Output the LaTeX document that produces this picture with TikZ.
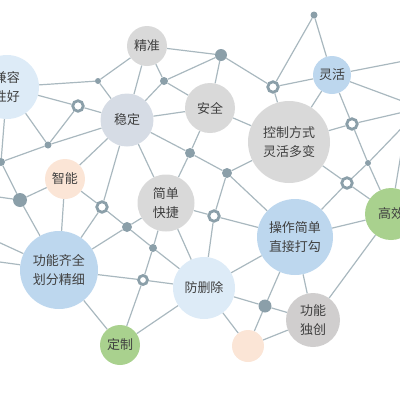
\documentclass[tikz,border=0pt]{standalone}
\usepackage{fontspec}
\setmainfont{Noto Sans CJK SC}
\pgfdeclarelayer{bg}
\pgfsetlayers{bg,main}
\definecolor{edgec}{HTML}{A9B8BF}
\definecolor{dotc}{HTML}{8B9FA9}
\definecolor{txt}{HTML}{404040}
\definecolor{grayn}{HTML}{D9D9D9}
\definecolor{grayb}{HTML}{D0CECE}
\definecolor{slate}{HTML}{D6DCE5}
\definecolor{blue1}{HTML}{BDD7EE}
\definecolor{blue2}{HTML}{DDEBF7}
\definecolor{peach}{HTML}{FBE5D6}
\definecolor{green1}{HTML}{A9D18E}
\tikzset{
  edge/.style={draw=edgec, line width=1.2pt},
  big/.style={circle, inner sep=0pt, align=center, text=txt, font=\fontsize{13}{19}\selectfont},
  dotn/.style={circle, fill=dotc, inner sep=0pt},
  ringn/.style={circle, draw=dotc, line width=2.8pt, fill=white, inner sep=0pt, minimum size=10.5pt},
}
\begin{document}
\begin{tikzpicture}[x=1pt,y=-1pt]
\useasboundingbox (0,0) rectangle (400,400);
\clip (0,0) rectangle (400,400);
% big nodes
\node[big, fill=blue2, minimum size=64pt] (jr) at (7,87) {兼容\\性好};
\node[big, fill=grayn, minimum size=40pt] (jz) at (147,46) {精准};
\node[big, fill=slate, minimum size=53pt] (wd) at (127,120) {稳定};
\node[big, fill=grayn, minimum size=50pt] (aq) at (210,108) {安全};
\node[big, fill=grayn, minimum size=82pt] (kz) at (289,142) {控制方式\\灵活多变};
\node[big, fill=blue1, minimum size=38pt] (lh) at (332,75) {灵活};
\node[big, fill=peach, minimum size=40pt] (zn) at (65,179) {智能};
\node[big, fill=grayn, minimum size=57pt] (jd) at (166,203) {简单\\快捷};
\node[big, fill=blue1, minimum size=78pt] (gn) at (59,270) {功能齐全\\划分精细};
\node[big, fill=blue2, minimum size=62pt] (fs) at (204,288) {防删除};
\node[big, fill=blue1, minimum size=76pt] (cz) at (295,237) {操作简单\\直接打勾};
\node[big, fill=green1, minimum size=52pt] (gx) at (391,214) {高效};
\node[big, fill=green1, minimum size=40pt] (dz) at (120,345) {定制};
\node[big, fill=grayb, minimum size=54pt] (dc) at (313,320) {功能\\独创};
\node[big, fill=peach, minimum size=32pt] (pc) at (248,346) {};
% dots
\node[dotn, minimum size=6pt] (d1) at (98,81) {};
\node[dotn, minimum size=8pt] (d2) at (164,81) {};
\node[dotn, minimum size=7pt] (d3) at (48,145) {};
\node[dotn, minimum size=8pt] (d4) at (1,162) {};
\node[dotn, minimum size=14pt] (d5) at (20,200) {};
\node[dotn, minimum size=12pt] (d6) at (221,55) {};
\node[dotn, minimum size=7pt] (d7) at (314,15) {};
\node[dotn, minimum size=10pt] (d8) at (190,153) {};
\node[dotn, minimum size=10pt] (d9) at (227,173) {};
\node[dotn, minimum size=6pt] (d10) at (368,163) {};
\node[dotn, minimum size=10pt] (d11) at (127,227) {};
\node[dotn, minimum size=8pt] (d12) at (153,248) {};
\node[dotn, minimum size=13pt] (d13) at (265,306) {};
% rings
\node[ringn] (r1) at (78,106) {};
\node[ringn] (r2) at (273,87) {};
\node[ringn] (r3) at (352,124) {};
\node[ringn] (r4) at (347,183) {};
\node[ringn] (r5) at (102,207) {};
\node[ringn] (r6) at (214,216) {};
\node[ringn, minimum size=9pt] (r7) at (143,280) {};
% off-frame ends
\coordinate (oA) at (440,54);
\coordinate (oB) at (421,108);
\coordinate (oD) at (405,130);
\coordinate (oE) at (-30,193);
\coordinate (oF) at (-30,229);
\coordinate (oG) at (-30,258);
\begin{pgfonlayer}{bg}
\draw[edge] (jr)--(d1) (jr)--(r1) (jr)--(d3) (jr)--(d4);
\draw[edge] (jz)--(d1) (jz)--(d2) (jz)--(wd) (jz)--(d6);
\draw[edge] (d1)--(wd);
\draw[edge] (d2)--(d6) (d2)--(wd) (d2)--(aq);
\draw[edge] (r1)--(wd) (r1)--(d3);
\draw[edge] (d3)--(wd) (d3)--(d4);
\draw[edge] (d4)--(d5);
\draw[edge] (wd)--(aq) (wd)--(d8) (wd)--(zn) (wd)--(jd) (wd)--(r5);
\draw[edge] (zn)--(d5) (zn)--(gn) (zn)--(r5);
\draw[edge] (d5)--(gn) (d5)--(oE);
\draw[edge] (gn)--(oF) (gn)--(oG);
\draw[edge] (gn)--(r5) (gn)--(d11) (gn)--(r7) (gn)--(dz);
\draw[edge] (r5)--(d11);
\draw[edge] (d11)--(jd) (d11)--(d12);
\draw[edge] (d12)--(jd) (d12)--(r7) (d12)--(fs);
\draw[edge] (r7)--(fs) (r7)--(dz);
\draw[edge] (dz)--(fs);
\draw[edge] (jd)--(d8) (jd)--(r6) (jd)--(fs);
\draw[edge] (fs)--(r6) (fs)--(cz) (fs)--(d13) (fs)--(pc);
\draw[edge] (d13)--(cz) (d13)--(pc) (d13)--(dc);
\draw[edge] (pc)--(dc);
\draw[edge] (dc)--(cz) (dc)--(gx);
\draw[edge] (cz)--(gx) (cz)--(r6) (cz)--(d9) (cz)--(r4);
\draw[edge] (r6)--(d9);
\draw[edge] (d9)--(kz) (d9)--(d8);
\draw[edge] (d8)--(aq);
\draw[edge] (aq)--(d6) (aq)--(kz);
\draw[edge] (d6)--(r2);
\draw[edge] (r2)--(kz) (r2)--(lh) (r2)--(d7);
\draw[edge] (d7)--(lh);
\draw[edge] (lh)--(kz) (lh)--(r3) (lh)--(oA) (lh)--(oB);
\draw[edge] (r3)--(kz) (r3)--(d10) (r3)--(oB);
\draw[edge] (d10)--(gx) (d10)--(r4) (d10)--(oB);
\draw[edge] (r4)--(kz) (r4)--(gx);
\draw[edge] (gx)--(oD);
\end{pgfonlayer}
\end{tikzpicture}
\end{document}
